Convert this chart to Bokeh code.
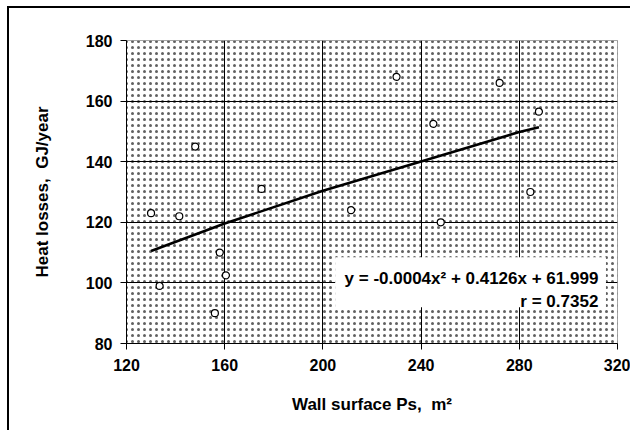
from bokeh.plotting import figure
from bokeh.models import Range1d, BoxAnnotation, Label, FixedTicker
from bokeh.embed import file_html
from bokeh.resources import INLINE

# Data
wall_surface = [130, 133.5, 141.5, 148, 156, 158, 160.5, 175, 211.5, 230, 245, 248, 272, 284.5, 288]
heat_losses = [123, 99, 122, 145, 90, 110, 102.5, 131, 124, 168, 152.5, 120, 166, 130, 156.5]

# Trend line as drawn in the reference
trend_x = [130, 160, 200, 240, 280, 288]
trend_y = [110.5, 119.6, 130.4, 140.1, 149.8, 151.4]

x_ticks = [120, 160, 200, 240, 280, 320]
y_ticks = [80, 100, 120, 140, 160, 180]

equation_text = "y = -0.0004x\u00b2 + 0.4126x + 61.999"
r_text = "r = 0.7352"

FONT = "Liberation Sans"

p = figure(width=623, height=424,
           x_range=Range1d(120, 320), y_range=Range1d(80, 180),
           output_backend="svg", toolbar_location=None,
           min_border_left=117, min_border_right=15,
           min_border_top=32, min_border_bottom=89)

# outer chart border (left and top visible, the rest is cut by the window)
p.styles = {"margin-left": "7px", "margin-top": "6px",
            "border-left": "2px solid black", "border-top": "2px solid black"}

p.background_fill_color = "white"
p.border_fill_color = "white"
p.outline_line_color = "#8a8a8a"
p.outline_line_width = 1

# dotted background pattern
hatch = BoxAnnotation(fill_color="white", fill_alpha=1.0,
                      hatch_pattern="dot", hatch_color="#3a3a3a",
                      hatch_scale=6, hatch_alpha=0.8,
                      line_color=None, level="image")
p.add_layout(hatch)

# grid
p.xgrid.ticker = FixedTicker(ticks=x_ticks)
p.ygrid.ticker = FixedTicker(ticks=y_ticks)
p.grid.grid_line_color = "black"
p.grid.grid_line_width = 1
p.grid.grid_line_alpha = 1

# axes
p.xaxis.ticker = FixedTicker(ticks=x_ticks)
p.yaxis.ticker = FixedTicker(ticks=y_ticks)
for ax in (p.xaxis[0], p.yaxis[0]):
    ax.axis_line_color = "black"
    ax.axis_line_width = 1
    ax.major_tick_line_color = "black"
    ax.major_tick_out = 6
    ax.major_tick_in = 0
    ax.minor_tick_line_color = None
    ax.major_label_text_font = FONT
    ax.major_label_text_font_style = "bold"
    ax.major_label_text_font_size = "16px"
    ax.major_label_text_color = "black"
    ax.axis_label_text_font = FONT
    ax.axis_label_text_font_style = "bold"
    ax.axis_label_text_font_size = "17px"
    ax.axis_label_text_color = "black"

p.xaxis.axis_label = "Wall surface Ps,\u00a0 m\u00b2"
p.yaxis.axis_label = "Heat losses,\u00a0 GJ/year"
p.xaxis.major_label_standoff = 9
p.yaxis.major_label_standoff = 8
p.xaxis.axis_label_standoff = 21
p.yaxis.axis_label_standoff = 31

# trend line and points
p.line(trend_x, trend_y, line_color="black", line_width=2.6)
p.scatter(wall_surface, heat_losses, marker="circle", size=7,
          fill_color="white", line_color="black", line_width=1.2)

# equation box
box = BoxAnnotation(left=205, right=315.3, bottom=92.0, top=108.5,
                    fill_color="white", fill_alpha=1.0, line_color=None)
p.add_layout(box)

p.add_layout(Label(x=312.2, y=101.6, text=equation_text, text_align="right",
                   text_baseline="alphabetic", text_font=FONT,
                   text_font_style="bold", text_font_size="17px",
                   text_color="black"))
p.add_layout(Label(x=312.2, y=94.0, text=r_text, text_align="right",
                   text_baseline="alphabetic", text_font=FONT,
                   text_font_style="bold", text_font_size="17px",
                   text_color="black"))

open("out.html", "w").write(file_html(p, INLINE))
